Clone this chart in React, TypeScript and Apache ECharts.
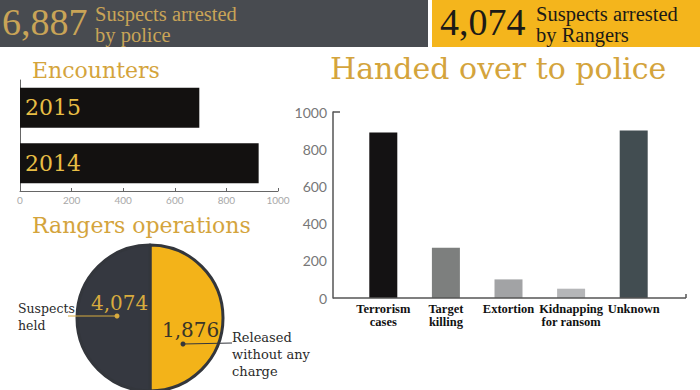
import React, { useEffect, useRef } from "react";
import * as echarts from "echarts";

const encounterYears = ["2014", "2015"];
const encounterValues = [925, 695];
const encounterTicks = [0, 200, 400, 600, 800, 1000];

const handedCategories = ["Terrorism\ncases", "Target\nkilling", "Extortion", "Kidnapping\nfor ransom", "Unknown"];
const handedValues = [890, 270, 100, 50, 900];
const handedColors = ["#141213", "#7d7f7e", "#a2a3a5", "#b5b6b8", "#424d51"];

const pieNames = ["Released without any charge", "Suspects held"];
const pieShares = [50, 50];
const pieColors = ["#f3b319", "#353840"];

const bannerNumbers = ["6,887", "4,074"];
const bannerLabels = ["Suspects arrested\nby police", "Suspects arrested\nby Rangers"];
const pieNumbers = ["4,074", "1,876"];
const pieLabelHeld = "Suspects\nheld";
const pieLabelReleased = "Released\nwithout any\ncharge";

const GOLD = "#d4a43c";
const SERIF = "DejaVu Serif";
const NARROW = "Liberation Serif";

export default function App() {
  const ref = useRef<HTMLDivElement>(null);
  useEffect(() => {
    document.body.style.margin = "0";
    const chart = echarts.init(ref.current!, null, { renderer: "svg" });
    const txt = (text: string, x: number, y: number, size: number, fill: string, family: string, extra: any = {}) => ({
      type: "text",
      z: 100,
      style: { text, x, y, fill, fontSize: size, fontFamily: family, verticalAlign: "middle", ...extra },
    });
    const line = (x1: number, y1: number, x2: number, y2: number, stroke: string, w = 1) => ({
      type: "line",
      z: 100,
      shape: { x1, y1, x2, y2 },
      style: { stroke, lineWidth: w },
    });
    chart.setOption({
      animation: false,
      grid: [
        { left: 20, top: 80, width: 258, height: 111 },
        { left: 352, top: 112, width: 313, height: 186 },
      ],
      xAxis: [
        {
          gridIndex: 0,
          type: "value",
          min: encounterTicks[0],
          max: encounterTicks[encounterTicks.length - 1],
          interval: 200,
          axisLine: { show: true, lineStyle: { color: "#666", width: 1 } },
          axisTick: { show: true, inside: true, length: 3, lineStyle: { color: "#666" } },
          axisLabel: { color: "#a8a8a8", fontSize: 10, fontFamily: "Lato", margin: 4, formatter: (v: number) => String(v) },
          splitLine: { show: false },
        },
        {
          gridIndex: 1,
          type: "category",
          data: handedCategories,
          axisLine: { show: false },
          axisTick: { show: false },
          axisLabel: {
            interval: 0,
            color: "#111",
            fontSize: 12.5,
            fontWeight: "bold",
            lineHeight: 13.5,
            fontFamily: NARROW,
            margin: 4,
          },
        },
      ],
      yAxis: [
        {
          gridIndex: 0,
          type: "category",
          data: encounterYears,
          axisLine: { show: true, lineStyle: { color: "#666", width: 1 } },
          axisTick: { show: false },
          axisLabel: { show: false },
        },
        {
          gridIndex: 1,
          type: "value",
          min: 0,
          max: 1000,
          interval: 200,
          offset: 19,
          axisLine: { show: true, lineStyle: { color: "#555", width: 1.5 } },
          axisTick: { show: false },
          axisLabel: { color: "#777", fontSize: 14, fontFamily: "Lato", margin: 6, formatter: (v: number) => String(v) },
          splitLine: { show: false },
        },
      ],
      series: [
        {
          type: "bar",
          xAxisIndex: 0,
          yAxisIndex: 0,
          data: encounterValues,
          barWidth: 40,
          itemStyle: { color: "#131110" },
          label: {
            show: true,
            position: "insideLeft",
            distance: 5,
            formatter: "{b}",
            color: "#e8be45",
            fontSize: 22,
            fontFamily: SERIF,
          },
        },
        {
          type: "bar",
          xAxisIndex: 1,
          yAxisIndex: 1,
          barWidth: 28,
          data: handedValues.map((v, i) => ({ value: v, itemStyle: { color: handedColors[i] } })),
        },
        {
          type: "pie",
          center: [150, 318],
          radius: 73,
          startAngle: 90,
          clockwise: true,
          silent: true,
          label: { show: false },
          labelLine: { show: false },
          itemStyle: { borderColor: "#33363c", borderWidth: 3 },
          data: pieShares.map((v, i) => ({ name: pieNames[i], value: v, itemStyle: { color: pieColors[i] } })),
        },
      ],
      graphic: [
        { type: "rect", z: 90, shape: { x: 0, y: 0, width: 428, height: 47 }, style: { fill: "#484b50" } },
        { type: "rect", z: 90, shape: { x: 432, y: 0, width: 268, height: 47 }, style: { fill: "#f4b51c" } },
        txt(bannerNumbers[0], 2, 22, 38, "#c9a457", NARROW),
        txt(bannerLabels[0], 95, 24.5, 20.5, "#c9a457", NARROW, { lineHeight: 21 }),
        txt(bannerNumbers[1], 440, 22, 38, "#1c1a16", NARROW),
        txt(bannerLabels[1], 536, 24.5, 20.5, "#1c1a16", NARROW, { lineHeight: 21 }),
        txt("Encounters", 32, 70, 22, GOLD, SERIF),
        txt("Rangers operations", 32, 225, 22, GOLD, SERIF),
        txt("Handed over to police", 330, 68, 30, GOLD, SERIF),
        txt(pieNumbers[0], 91, 303, 20, "#d8ab3e", SERIF),
        txt(pieNumbers[1], 162, 330, 20, "#3a3528", SERIF),
        line(68, 316, 117, 316, "#d8ab3e", 1),
        { type: "circle", z: 101, shape: { cx: 117, cy: 316, r: 2.5 }, style: { fill: "#d8ab3e" } },
        line(183, 344, 232, 343, "#33363c", 1),
        { type: "circle", z: 101, shape: { cx: 183, cy: 344, r: 2.5 }, style: { fill: "#33363c" } },
        txt(pieLabelHeld, 18, 316.5, 12.5, "#2a2a2a", SERIF, { lineHeight: 17 }),
        txt(pieLabelReleased, 232, 354, 13, "#2a2a2a", SERIF, { lineHeight: 17 }),
        line(333, 298, 686, 298, "#555", 1.5),
        line(686, 298, 686, 294, "#555", 1.5),
        line(333, 112, 340, 112, "#555", 1.5),
      ],
    });
    return () => chart.dispose();
  }, []);
  return <div ref={ref} style={{ width: 700, height: 390 }} />;
}
